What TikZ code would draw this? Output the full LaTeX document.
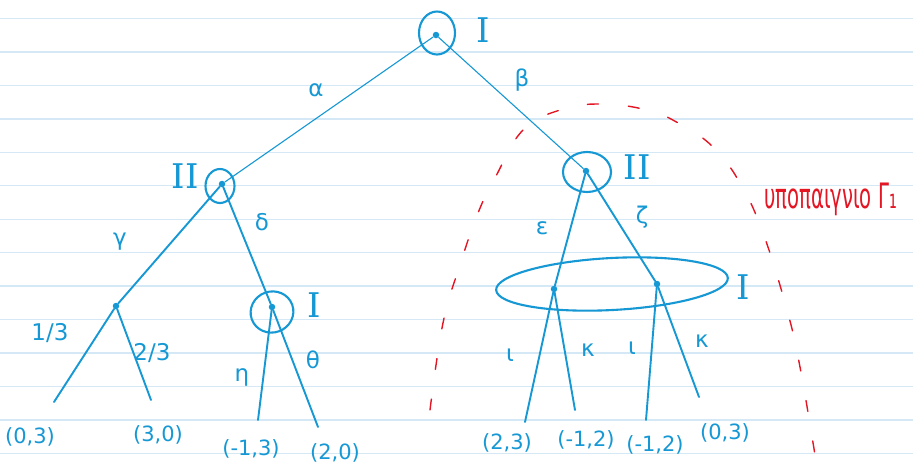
\documentclass[tikz,border=0pt]{standalone}
\usepackage{fontspec}
\usepackage{graphicx}
\usetikzlibrary{shapes.geometric}
\setmainfont{DejaVu Sans}
\newfontfamily\rnfont{DejaVu Serif}
\definecolor{ink}{RGB}{22,152,212}
\definecolor{redink}{RGB}{228,22,36}
\definecolor{ruled}{RGB}{212,232,246}
\tikzset{
  dotnode/.style={circle,fill=ink,inner sep=0pt,minimum size=6.5pt},
  ring/.style={ellipse,draw=ink,line width=2.1pt,inner sep=0pt},
  thinedge/.style={draw=ink,line width=1.1pt},
  edge/.style={draw=ink,line width=1.9pt,line cap=round},
  lbl/.style={text=ink,font=\fontsize{23}{23}\selectfont,inner sep=0pt},
  leaf/.style={text=ink,font=\fontsize{21}{21}\selectfont,inner sep=0pt},
  player/.style={text=ink,font=\rnfont\fontsize{34}{34}\selectfont,inner sep=0pt},
  subgame/.style={draw=redink,line width=1.4pt,dash pattern=on 11pt off 30pt,line cap=round},
}
\begin{document}
\begin{tikzpicture}[x=1pt,y=-1pt]
\useasboundingbox (0,0) rectangle (913,472);
\fill[white] (0,0) rectangle (913,472);
% ruled paper
\foreach \k in {0,...,13}{
  \draw[ruled,line width=1.3pt] (0,{18.5+33.45*\k}) -- (913,{18.5+33.45*\k});
}
% red subgame boundary
\draw[subgame] plot[smooth,tension=0.7] coordinates {(430,410) (443,323) (460,265) (478,213) (496,176) (523,130) (560,110) (600,104) (647,110) (680,124) (713,147) (740,183) (763,233) (787,310) (800,367) (815,455)};
\node[text=redink,font=\fontsize{35}{35}\selectfont,inner sep=0pt,anchor=west] (sub) at (764,199) {\scalebox{0.56}[1]{υποπαιγνιο Γ₁}};

% nodes
\node[dotnode] (r) at (436,35) {};
\node[ring,minimum width=36pt,minimum height=43pt] (rring) at (437,33) {};
\node[player] (pr) at (483,30) {I};

\node[dotnode] (a) at (222,184) {};
\node[ring,minimum width=29pt,minimum height=34pt] (aring) at (220,186) {};
\node[player] (pa) at (185,176) {II};

\node[dotnode] (b) at (586,171) {};
\node[ring,minimum width=48pt,minimum height=40pt] (bring) at (587,172) {};
\node[player] (pb) at (637,167) {II};

\node[dotnode] (c) at (116,306) {};

\node[dotnode] (d) at (272,307) {};
\node[ring,minimum width=43pt,minimum height=41pt,rotate=20] (dring) at (272,312) {};
\node[player] (pd) at (314,305) {I};

\node[dotnode] (e) at (554,289) {};
\node[dotnode] (f) at (657,284) {};
\node[ring,minimum width=232pt,minimum height=52pt,rotate=3] (info) at (612,284) {};
\node[player] (pf) at (743,287) {I};

% edges
\draw[thinedge] (r) -- (a);
\draw[thinedge] (r) -- (b);
\draw[edge] (a) -- (c);
\draw[edge] (a) -- (d);
\draw[edge] (b) -- (e);
\draw[edge] (b) -- (f);

\coordinate (c1) at (54,402);
\coordinate (c2) at (151,400);
\coordinate (d1) at (258,420);
\coordinate (d2) at (318,427);
\coordinate (e1) at (525,422);
\coordinate (e2) at (575,410);
\coordinate (f1) at (646,420);
\coordinate (f2) at (699,397);
\draw[edge] (c) -- (c1);
\draw[edge] (c) -- (c2);
\draw[edge] (d) -- (d1);
\draw[edge] (d) -- (d2);
\draw[edge] (e) -- (e1);
\draw[edge] (e) -- (e2);
\draw[edge] (f) -- (f1);
\draw[edge] (f) -- (f2);

% action labels
\node[lbl] (la) at (316,90) {α};
\node[lbl] (lb) at (522,80) {β};
\node[lbl] (lg) at (120,242) {γ};
\node[lbl] (ld) at (262,222) {δ};
\node[lbl] (lp1) at (50,333) {1/3};
\node[lbl] (lp2) at (152,353) {2/3};
\node[lbl] (lh) at (242,377) {η};
\node[lbl] (lt) at (313,360) {θ};
\node[lbl] (le) at (542,228) {ε};
\node[lbl] (lz) at (642,217) {ζ};
\node[lbl] (li1) at (510,355) {ι};
\node[lbl] (lk1) at (588,350) {κ};
\node[lbl] (li2) at (632,348) {ι};
\node[lbl] (lk2) at (702,341) {κ};

% payoffs
\node[leaf] (o1) at (30,437) {(0,3)};
\node[leaf] (o2) at (158,435) {(3,0)};
\node[leaf] (o3) at (251,449) {(-1,3)};
\node[leaf] (o4) at (335,453) {(2,0)};
\node[leaf] (o5) at (507,443) {(2,3)};
\node[leaf] (o6) at (586,440) {(-1,2)};
\node[leaf] (o7) at (655,445) {(-1,2)};
\node[leaf] (o8) at (725,433) {(0,3)};
\end{tikzpicture}
\end{document}
